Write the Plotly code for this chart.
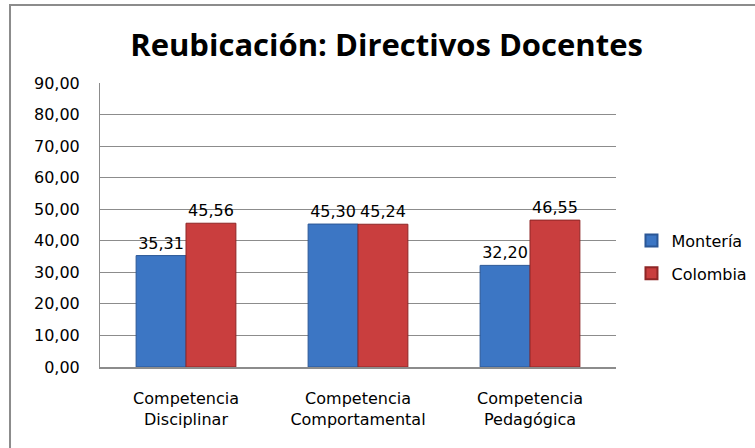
import plotly.graph_objects as go

categories = ["Competencia<br>Disciplinar", "Competencia<br>Comportamental", "Competencia<br>Pedagógica"]
monteria = [35.31, 45.30, 32.20]
colombia = [45.56, 45.24, 46.55]
series_names = ["Montería", "Colombia"]
y_ticks = [0, 10, 20, 30, 40, 50, 60, 70, 80, 90]

FONT = "DejaVu Sans"
TITLE_FONT = "Open Sans"

fig = go.Figure()
fig.add_trace(go.Bar(
    x=categories, y=monteria, name=series_names[0],
    marker=dict(color="#3C76C4", line=dict(color="#2B5796", width=1)),
    texttemplate="%{y:.2f}", textposition="outside", cliponaxis=False,
    textfont=dict(family=FONT, size=16, color="black"),
    legendgroup="a",
))
fig.add_trace(go.Bar(
    x=categories, y=colombia, name=series_names[1],
    marker=dict(color="#C93E3E", line=dict(color="#8E2626", width=1)),
    texttemplate="%{y:.2f}", textposition="outside", cliponaxis=False,
    textfont=dict(family=FONT, size=16, color="black"),
    legendgroup="b",
))

fig.update_layout(
    width=755, height=448,
    separators=",.",
    barmode="group", bargap=0.42, bargroupgap=0,
    paper_bgcolor="white", plot_bgcolor="white",
    margin=dict(l=100, r=139, t=83, b=81, autoexpand=False),
    title=dict(text="<b>Reubicación: Directivos Docentes</b>", x=0.512, xanchor="center",
               y=0.9, yanchor="middle",
               font=dict(family=TITLE_FONT, size=31, color="black")),
    font=dict(family=FONT, size=16, color="black"),
    legend=dict(x=1.03, y=0.387, xanchor="left", yanchor="middle",
                font=dict(family=FONT, size=16, color="black"),
                tracegroupgap=9, itemsizing="constant", borderwidth=0),
    showlegend=True,
)
fig.update_yaxes(range=[0, 90], tickvals=y_ticks, tickformat=".2f",
                 showgrid=True, gridcolor="#8C8C8C", gridwidth=1,
                 showline=True, linecolor="#8C8C8C", linewidth=1,
                 ticks="", tickfont=dict(family=FONT, size=16), zeroline=False,
                 ticklabelstandoff=16)
fig.update_xaxes(showline=True, linecolor="#8C8C8C", linewidth=2, ticks="",
                 tickfont=dict(family=FONT, size=16), ticklabelstandoff=16)

fig.add_shape(type="rect", xref="paper", yref="paper",
              x0=-0.1744, x1=1.5, y0=-0.5, y1=1.2746,
              line=dict(color="#8C8C8C", width=2), fillcolor="rgba(0,0,0,0)", layer="below")

fig.write_html("out.html",
               config={"displayModeBar": False},
               post_script="document.body.style.margin='0';document.body.style.overflow='hidden';")
